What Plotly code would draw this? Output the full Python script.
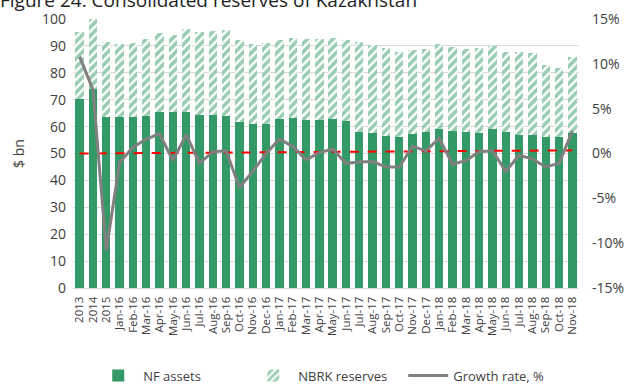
import plotly.graph_objects as go

categories = ["2013", "2014", "2015",
              "Jan-16", "Feb-16", "Mar-16", "Apr-16", "May-16", "Jun-16", "Jul-16", "Aug-16",
              "Sep-16", "Oct-16", "Nov-16", "Dec-16",
              "Jan-17", "Feb-17", "Mar-17", "Apr-17", "May-17", "Jun-17", "Jul-17", "Aug-17",
              "Sep-17", "Oct-17", "Nov-17", "Dec-17",
              "Jan-18", "Feb-18", "Mar-18", "Apr-18", "May-18", "Jun-18", "Jul-18", "Aug-18",
              "Sep-18", "Oct-18", "Nov-18"]

nf_assets = [70.2, 74.0, 63.4, 63.4, 63.4, 64.1, 65.3, 65.3, 65.4, 64.4, 64.4, 64.1, 61.6,
             60.9, 60.9, 62.8, 63.1, 62.5, 62.6, 62.8, 61.9, 58.1, 57.8, 56.6, 56.3, 57.3,
             58.1, 59.1, 58.5, 58.1, 57.8, 59.0, 57.9, 56.9, 56.8, 56.3, 56.3, 57.5]

nbrk_reserves = [25.0, 26.0, 28.1, 27.2, 27.8, 28.4, 29.6, 28.8, 30.7, 30.7, 31.1, 31.7, 30.5,
                 29.7, 30.0, 29.5, 30.0, 30.0, 30.0, 30.3, 30.2, 33.2, 32.6, 32.5, 31.6, 31.2,
                 30.9, 31.5, 31.1, 30.9, 31.3, 30.8, 30.0, 31.0, 30.7, 26.5, 25.6, 28.5]

growth_rate = [10.8, 7.1, -10.8, -1.0, 0.7, 1.6, 2.2, -0.8, 2.1, -1.1, 0.2, 0.3, -3.8,
               -2.0, 0.0, 1.6, 0.8, -0.7, 0.1, 0.5, -1.1, -0.95, -0.9, -1.5, -1.5, 0.8,
               0.3, 1.7, -1.2, -0.8, 0.2, 0.3, -2.0, -0.2, -0.6, -1.5, -1.1, 2.5]

trend_x = [categories[0], categories[-1]]
trend_y = [0.0, 0.35]

left_ticks = list(range(0, 101, 10))
right_ticks = [-15, -10, -5, 0, 5, 10, 15]
right_labels = ["-15%", "-10%", "-5%", "0%", "5%", "10%", "15%"]

GREEN = "#339966"
FONT = "Open Sans"
TXT = "#404040"

fig = go.Figure()
fig.add_trace(go.Bar(x=categories, y=nf_assets, name="NF assets",
                     marker=dict(color=GREEN, line=dict(width=0))))
fig.add_trace(go.Bar(x=categories, y=nbrk_reserves, name="NBRK reserves",
                     marker=dict(color="white", line=dict(width=0),
                                 pattern=dict(shape="/", fgcolor=GREEN, bgcolor="white",
                                              size=6, solidity=0.6))))
fig.add_trace(go.Scatter(x=trend_x, y=trend_y, yaxis="y2", mode="lines", showlegend=False,
                         line=dict(color="#FF0000", width=2, dash="dash"), hoverinfo="skip"))
fig.add_trace(go.Scatter(x=categories, y=growth_rate, yaxis="y2", mode="lines",
                         name="Growth rate, %", line=dict(color="#808080", width=3)))

fig.update_layout(
    width=631, height=385,
    margin=dict(l=73, r=52, t=19, b=97, autoexpand=False),
    paper_bgcolor="white", plot_bgcolor="white",
    barmode="stack", bargap=0.37,
    font=dict(family=FONT, color=TXT, size=13),
    title=dict(text="Figure 24: Consolidated reserves of Kazakhstan", x=0.0, xanchor="left",
               xref="container", y=1.0, yref="container", yanchor="middle",
               font=dict(family=FONT, size=19, color="#222222"), automargin=False),
    xaxis=dict(type="category", tickmode="array", tickvals=categories, ticktext=categories,
               tickangle=-90, tickfont=dict(size=11.5, color=TXT),
               showgrid=False, showline=True, linecolor="#D9D9D9", linewidth=1,
               ticks="", ticklabelstandoff=3, automargin=False),
    yaxis=dict(range=[0, 100], tickvals=left_ticks, showgrid=True, gridcolor="#D9D9D9",
               gridwidth=1, zeroline=False, tickfont=dict(size=14, color=TXT),
               title=dict(text="$ bn", font=dict(size=14, color=TXT), standoff=14),
               ticks="", ticklabelstandoff=6, automargin=False),
    yaxis2=dict(range=[-15, 15], tickmode="array", tickvals=right_ticks, ticktext=right_labels,
                overlaying="y", side="right", showgrid=False, zeroline=False,
                tickfont=dict(size=14, color=TXT), ticks="", ticklabelstandoff=12,
                automargin=False),
    legend=dict(orientation="h", x=0.04, xanchor="left", y=-0.27, yanchor="top",
                font=dict(size=13, color=TXT), traceorder="normal", itemwidth=40,
                entrywidth=100, entrywidthmode="pixels"),
    showlegend=True,
)

fig.write_html("out.html", config={"displayModeBar": False},
               post_script="document.body.style.margin='0';")
